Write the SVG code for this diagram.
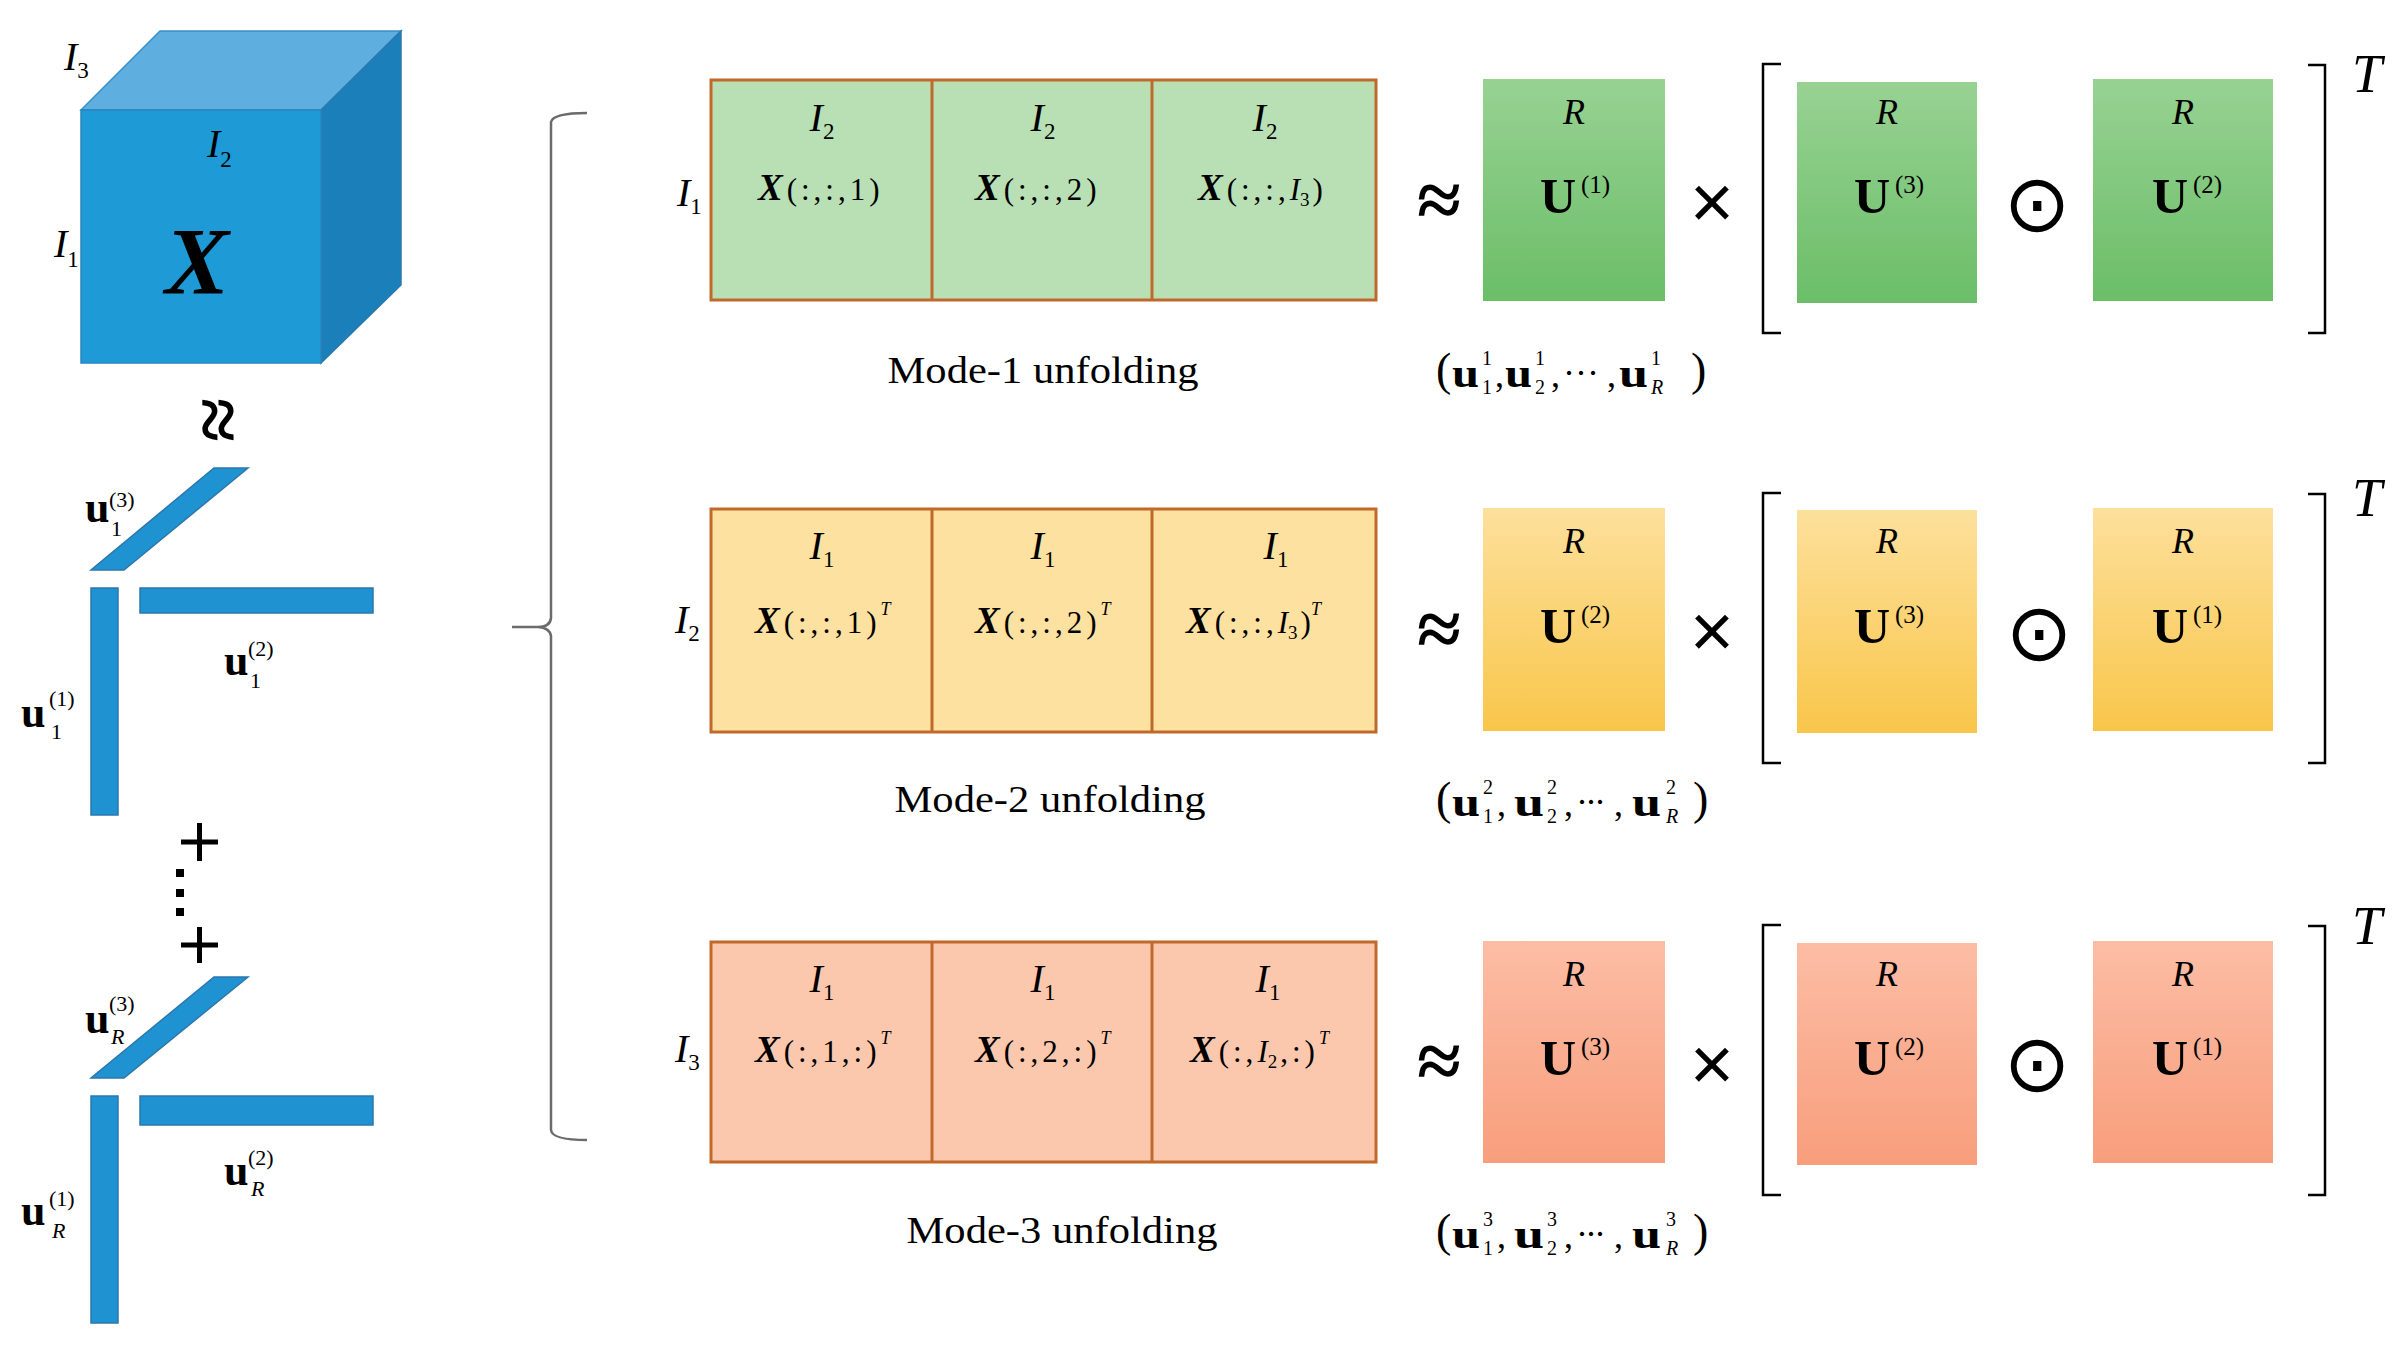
<svg xmlns="http://www.w3.org/2000/svg" width="2406" height="1352" viewBox="0 0 2406 1352">
<defs>
<style>
text{font-family:"Liberation Serif","Times New Roman",serif;fill:#000}
.it{font-style:italic}
.b{font-weight:bold}
.bi{font-weight:bold;font-style:italic}
.cell{stroke:#C0692B;stroke-width:3}
.bar{fill:#1F92D2;stroke:#2C77AC;stroke-width:1.5}
.brk{fill:none;stroke:#000;stroke-width:2.5}
.lbl{font-size:31px}
.Il{font-size:40px;font-style:italic}
.sub{font-size:23px;font-style:normal}
.U{font-size:50px;font-weight:bold}
.Usup{font-size:25px}
.R{font-size:36px;font-style:italic}
.mode{font-size:38px}
.tu{font-size:42px;font-weight:bold}
.ts{font-size:20px}
.times{font-family:"Liberation Sans",sans-serif;font-size:76px}
.odot{font-family:"DejaVu Sans",sans-serif;font-size:80px}
</style>
<linearGradient id="gG" x1="0" y1="0" x2="0" y2="1"><stop offset="0" stop-color="#98D293"/><stop offset="1" stop-color="#6BBE68"/></linearGradient>
<linearGradient id="gY" x1="0" y1="0" x2="0" y2="1"><stop offset="0" stop-color="#FDE09C"/><stop offset="1" stop-color="#F9C64A"/></linearGradient>
<linearGradient id="gO" x1="0" y1="0" x2="0" y2="1"><stop offset="0" stop-color="#FCBDA5"/><stop offset="1" stop-color="#F89E7C"/></linearGradient>
</defs>
<rect width="2406" height="1352" fill="#fff"/>

<!-- tensor cube -->
<g id="cube">
<polygon points="81,110 160,31 401,31 321,110" fill="#5EAEE0" stroke="#3A8FC6" stroke-width="1.5"/>
<polygon points="321,110 401,31 401,285 321,363" fill="#1B80B9" stroke="#2A78AE" stroke-width="1.5"/>
<rect x="81" y="110" width="240" height="253" fill="#1E9AD6" stroke="#2A84BE" stroke-width="1.5"/>
<text x="64" y="70" class="Il" font-size="38">I<tspan class="sub" dy="8">3</tspan></text>
<text x="207" y="157" class="Il">I<tspan class="sub" dy="10">2</tspan></text>
<text x="54" y="257" class="Il">I<tspan class="sub" dy="10">1</tspan></text>
<text x="197" y="294" class="bi" font-size="96" text-anchor="middle">X</text>
</g>
<text class="b" font-size="80" text-anchor="middle" transform="translate(211,420) rotate(90)" x="0" y="20">≈</text>

<!-- rank-1 term 1 -->
<g id="rank1-term1">
<polygon class="bar" points="91,570 124,570 248,468 214,468"/>
<rect class="bar" x="91" y="588" width="27" height="227"/>
<rect class="bar" x="140" y="588" width="233" height="25"/>
<text x="85" y="522" class="b" font-size="44">u</text>
<text x="109" y="507" font-size="22">(3)</text><text x="111" y="536" font-size="22">1</text>
<text x="224" y="675" class="b" font-size="44">u</text>
<text x="248" y="656" font-size="22">(2)</text><text x="250" y="688" font-size="22">1</text>
<text x="21" y="727" class="b" font-size="44">u</text>
<text x="49" y="706" font-size="22">(1)</text><text x="51" y="739" font-size="22">1</text>
</g>
<g id="sum-ops">
<path d="M181,842 H218 M199.5,823 V861" stroke="#000" stroke-width="5" fill="none"/>
<rect x="176" y="869" width="8" height="8"/><rect x="176" y="889" width="8" height="8"/><rect x="176" y="908" width="8" height="8"/>
<path d="M181,945 H218 M199.5,927 V963" stroke="#000" stroke-width="5" fill="none"/>
</g>
<!-- rank-1 term R -->
<g id="rank1-termR">
<polygon class="bar" points="91,1078 124,1078 248,977 214,977"/>
<rect class="bar" x="91" y="1096" width="27" height="227"/>
<rect class="bar" x="140" y="1096" width="233" height="29"/>
<text x="85" y="1033" class="b" font-size="44">u</text>
<text x="109" y="1011" font-size="22">(3)</text><text x="111" y="1044" class="it" font-size="22">R</text>
<text x="224" y="1185" class="b" font-size="44">u</text>
<text x="248" y="1165" font-size="22">(2)</text><text x="251" y="1196" class="it" font-size="22">R</text>
<text x="21" y="1225" class="b" font-size="44">u</text>
<text x="49" y="1206" font-size="22">(1)</text><text x="52" y="1238" class="it" font-size="22">R</text>
</g>

<!-- connectors -->
<g id="connectors">
<path d="M587,113 Q553,113 551,122 L551,618 Q550,627 538,627 L512,627 M538,627 Q550,628 551,636 L551,1130 Q552,1140 587,1140" fill="none" stroke="#6b6b6b" stroke-width="2.5"/>
</g>

<!-- Mode-1 row -->
<g id="unfold-mode1">
<rect class="cell" x="711" y="80" width="665" height="220" fill="#B9DFB5"/>
<path class="cell" d="M932,80 V300 M1152,80 V300" fill="none"/>
<text x="677" y="206" class="Il">I<tspan class="sub" dy="8">1</tspan></text>
<text x="822" y="131" class="Il" text-anchor="middle">I<tspan class="sub" dy="8">2</tspan></text>
<text x="1043" y="131" class="Il" text-anchor="middle">I<tspan class="sub" dy="8">2</tspan></text>
<text x="1265" y="131" class="Il" text-anchor="middle">I<tspan class="sub" dy="8">2</tspan></text>
<text x="758" y="200" class="lbl"><tspan class="bi" font-size="37">X</tspan><tspan dx="4" letter-spacing="4">(:,:,1)</tspan></text>
<text x="975" y="200" class="lbl"><tspan class="bi" font-size="37">X</tspan><tspan dx="4" letter-spacing="4">(:,:,2)</tspan></text>
<text x="1198" y="200" class="lbl"><tspan class="bi" font-size="37">X</tspan><tspan dx="4" letter-spacing="4">(:,:,</tspan><tspan class="it">I</tspan><tspan font-size="19" dy="6">3</tspan><tspan dy="-6" dx="3">)</tspan></text>
<text x="1043" y="383" class="mode" text-anchor="middle" textLength="311" lengthAdjust="spacingAndGlyphs">Mode-1 unfolding</text>
</g>
<g id="factor-U1-mode1">
<rect x="1483" y="79" width="182" height="222" fill="url(#gG)"/>
<text x="1574" y="124" class="R" text-anchor="middle">R</text>
<text x="1540" y="213" class="U">U</text><text x="1581" y="193" class="Usup">(1)</text>
</g>
<g id="factor-U3-mode1">
<rect x="1797" y="82" width="180" height="221" fill="url(#gG)"/>
<text x="1887" y="124" class="R" text-anchor="middle">R</text>
<text x="1854" y="213" class="U">U</text><text x="1895" y="193" class="Usup">(3)</text>
</g>
<g id="factor-U2-mode1">
<rect x="2093" y="79" width="180" height="222" fill="url(#gG)"/>
<text x="2183" y="124" class="R" text-anchor="middle">R</text>
<text x="2152" y="213" class="U">U</text><text x="2193" y="193" class="Usup">(2)</text>
</g>
<g id="ops-mode1">
<text x="1439" y="227" class="b" font-size="80" text-anchor="middle">≈</text>
<text x="1712" y="228" class="times" text-anchor="middle">×</text>
<path class="brk" d="M1781,64 H1763 V333 H1781"/>
<path class="brk" d="M2308,65 H2325 V333 H2308"/>
<text x="2037" y="231" class="odot" text-anchor="middle">⊙</text>
<text x="2352" y="92" class="it" font-size="54">T</text>
</g>
<g id="tuple-mode1">
<text x="1436" y="385" font-size="46">(</text>
<text x="1452" y="387" class="tu" textLength="27" lengthAdjust="spacingAndGlyphs">u</text><text x="1482" y="365" class="ts">1</text><text x="1482" y="394" class="ts">1</text>
<text x="1495" y="387" font-size="36">,</text>
<text x="1505" y="387" class="tu" textLength="27" lengthAdjust="spacingAndGlyphs">u</text><text x="1535" y="365" class="ts">1</text><text x="1535" y="394" class="ts">2</text>
<text x="1551" y="387" font-size="36">,</text>
<text x="1563" y="385" font-size="36" textLength="36" lengthAdjust="spacing">···</text>
<text x="1607" y="387" font-size="36">,</text>
<text x="1619" y="387" class="tu" textLength="29" lengthAdjust="spacingAndGlyphs">u</text><text x="1651" y="365" class="ts">1</text><text x="1651" y="394" class="it ts">R</text>
<text x="1691" y="385" font-size="46">)</text>
</g>

<!-- Mode-2 row -->
<g id="unfold-mode2">
<rect class="cell" x="711" y="509" width="665" height="223" fill="#FDE1A1"/>
<path class="cell" d="M932,509 V732 M1152,509 V732" fill="none"/>
<text x="675" y="633" class="Il">I<tspan class="sub" dy="8">2</tspan></text>
<text x="822" y="559" class="Il" text-anchor="middle">I<tspan class="sub" dy="8">1</tspan></text>
<text x="1043" y="559" class="Il" text-anchor="middle">I<tspan class="sub" dy="8">1</tspan></text>
<text x="1276" y="559" class="Il" text-anchor="middle">I<tspan class="sub" dy="8">1</tspan></text>
<text x="755" y="633" class="lbl"><tspan class="bi" font-size="37">X</tspan><tspan dx="4" letter-spacing="4">(:,:,1)</tspan><tspan class="it" font-size="18" dy="-18">T</tspan></text>
<text x="975" y="633" class="lbl"><tspan class="bi" font-size="37">X</tspan><tspan dx="4" letter-spacing="4">(:,:,2)</tspan><tspan class="it" font-size="18" dy="-18">T</tspan></text>
<text x="1186" y="633" class="lbl"><tspan class="bi" font-size="37">X</tspan><tspan dx="4" letter-spacing="4">(:,:,</tspan><tspan class="it">I</tspan><tspan font-size="19" dy="6">3</tspan><tspan dy="-6" dx="3">)</tspan><tspan class="it" font-size="18" dy="-18">T</tspan></text>
<text x="1050" y="812" class="mode" text-anchor="middle" textLength="311" lengthAdjust="spacingAndGlyphs">Mode-2 unfolding</text>
</g>
<g id="factor-U2-mode2">
<rect x="1483" y="508" width="182" height="223" fill="url(#gY)"/>
<text x="1574" y="553" class="R" text-anchor="middle">R</text>
<text x="1540" y="643" class="U">U</text><text x="1581" y="623" class="Usup">(2)</text>
</g>
<g id="factor-U3-mode2">
<rect x="1797" y="510" width="180" height="223" fill="url(#gY)"/>
<text x="1887" y="553" class="R" text-anchor="middle">R</text>
<text x="1854" y="643" class="U">U</text><text x="1895" y="623" class="Usup">(3)</text>
</g>
<g id="factor-U1-mode2">
<rect x="2093" y="508" width="180" height="223" fill="url(#gY)"/>
<text x="2183" y="553" class="R" text-anchor="middle">R</text>
<text x="2152" y="643" class="U">U</text><text x="2193" y="623" class="Usup">(1)</text>
</g>
<g id="ops-mode2">
<text x="1439" y="656" class="b" font-size="80" text-anchor="middle">≈</text>
<text x="1712" y="657" class="times" text-anchor="middle">×</text>
<path class="brk" d="M1781,493 H1763 V763 H1781"/>
<path class="brk" d="M2308,494 H2325 V763 H2308"/>
<text x="2039" y="660" class="odot" text-anchor="middle">⊙</text>
<text x="2352" y="516" class="it" font-size="54">T</text>
</g>
<g id="tuple-mode2" transform="translate(0,429)">
<text x="1436" y="385" font-size="46">(</text>
<text x="1452" y="387" class="tu" textLength="28" lengthAdjust="spacingAndGlyphs">u</text><text x="1483" y="365" class="ts">2</text><text x="1483" y="394" class="ts">1</text>
<text x="1497" y="387" font-size="36">,</text>
<text x="1514" y="387" class="tu" textLength="30" lengthAdjust="spacingAndGlyphs">u</text><text x="1547" y="365" class="ts">2</text><text x="1547" y="394" class="ts">2</text>
<text x="1564" y="387" font-size="36">,</text>
<text x="1576" y="385" font-size="36" textLength="30" lengthAdjust="spacing">···</text>
<text x="1614" y="387" font-size="36">,</text>
<text x="1632" y="387" class="tu" textLength="29" lengthAdjust="spacingAndGlyphs">u</text><text x="1666" y="365" class="ts">2</text><text x="1666" y="394" class="it ts">R</text>
<text x="1693" y="385" font-size="46">)</text>
</g>

<!-- Mode-3 row -->
<g id="unfold-mode3">
<rect class="cell" x="711" y="942" width="665" height="220" fill="#FCC8AD"/>
<path class="cell" d="M932,942 V1162 M1152,942 V1162" fill="none"/>
<text x="675" y="1062" class="Il">I<tspan class="sub" dy="8">3</tspan></text>
<text x="822" y="992" class="Il" text-anchor="middle">I<tspan class="sub" dy="8">1</tspan></text>
<text x="1043" y="992" class="Il" text-anchor="middle">I<tspan class="sub" dy="8">1</tspan></text>
<text x="1268" y="992" class="Il" text-anchor="middle">I<tspan class="sub" dy="8">1</tspan></text>
<text x="755" y="1062" class="lbl"><tspan class="bi" font-size="37">X</tspan><tspan dx="4" letter-spacing="4">(:,1,:)</tspan><tspan class="it" font-size="18" dy="-18">T</tspan></text>
<text x="975" y="1062" class="lbl"><tspan class="bi" font-size="37">X</tspan><tspan dx="4" letter-spacing="4">(:,2,:)</tspan><tspan class="it" font-size="18" dy="-18">T</tspan></text>
<text x="1190" y="1062" class="lbl"><tspan class="bi" font-size="37">X</tspan><tspan dx="4" letter-spacing="4">(:,</tspan><tspan class="it">I</tspan><tspan font-size="19" dy="6">2</tspan><tspan dy="-6" dx="3" letter-spacing="4">,:)</tspan><tspan class="it" font-size="18" dy="-18">T</tspan></text>
<text x="1062" y="1243" class="mode" text-anchor="middle" textLength="311" lengthAdjust="spacingAndGlyphs">Mode-3 unfolding</text>
</g>
<g id="factor-U3-mode3">
<rect x="1483" y="941" width="182" height="222" fill="url(#gO)"/>
<text x="1574" y="986" class="R" text-anchor="middle">R</text>
<text x="1540" y="1075" class="U">U</text><text x="1581" y="1055" class="Usup">(3)</text>
</g>
<g id="factor-U2-mode3">
<rect x="1797" y="943" width="180" height="222" fill="url(#gO)"/>
<text x="1887" y="986" class="R" text-anchor="middle">R</text>
<text x="1854" y="1075" class="U">U</text><text x="1895" y="1055" class="Usup">(2)</text>
</g>
<g id="factor-U1-mode3">
<rect x="2093" y="941" width="180" height="222" fill="url(#gO)"/>
<text x="2183" y="986" class="R" text-anchor="middle">R</text>
<text x="2152" y="1075" class="U">U</text><text x="2193" y="1055" class="Usup">(1)</text>
</g>
<g id="ops-mode3">
<text x="1439" y="1088" class="b" font-size="80" text-anchor="middle">≈</text>
<text x="1712" y="1090" class="times" text-anchor="middle">×</text>
<path class="brk" d="M1781,925 H1763 V1195 H1781"/>
<path class="brk" d="M2308,926 H2325 V1195 H2308"/>
<text x="2037" y="1091" class="odot" text-anchor="middle">⊙</text>
<text x="2352" y="944" class="it" font-size="54">T</text>
</g>
<g id="tuple-mode3" transform="translate(0,861)">
<text x="1436" y="385" font-size="46">(</text>
<text x="1452" y="387" class="tu" textLength="28" lengthAdjust="spacingAndGlyphs">u</text><text x="1483" y="365" class="ts">3</text><text x="1483" y="394" class="ts">1</text>
<text x="1497" y="387" font-size="36">,</text>
<text x="1514" y="387" class="tu" textLength="30" lengthAdjust="spacingAndGlyphs">u</text><text x="1547" y="365" class="ts">3</text><text x="1547" y="394" class="ts">2</text>
<text x="1564" y="387" font-size="36">,</text>
<text x="1576" y="385" font-size="36" textLength="30" lengthAdjust="spacing">···</text>
<text x="1614" y="387" font-size="36">,</text>
<text x="1632" y="387" class="tu" textLength="29" lengthAdjust="spacingAndGlyphs">u</text><text x="1666" y="365" class="ts">3</text><text x="1666" y="394" class="it ts">R</text>
<text x="1693" y="385" font-size="46">)</text>
</g>
</svg>
